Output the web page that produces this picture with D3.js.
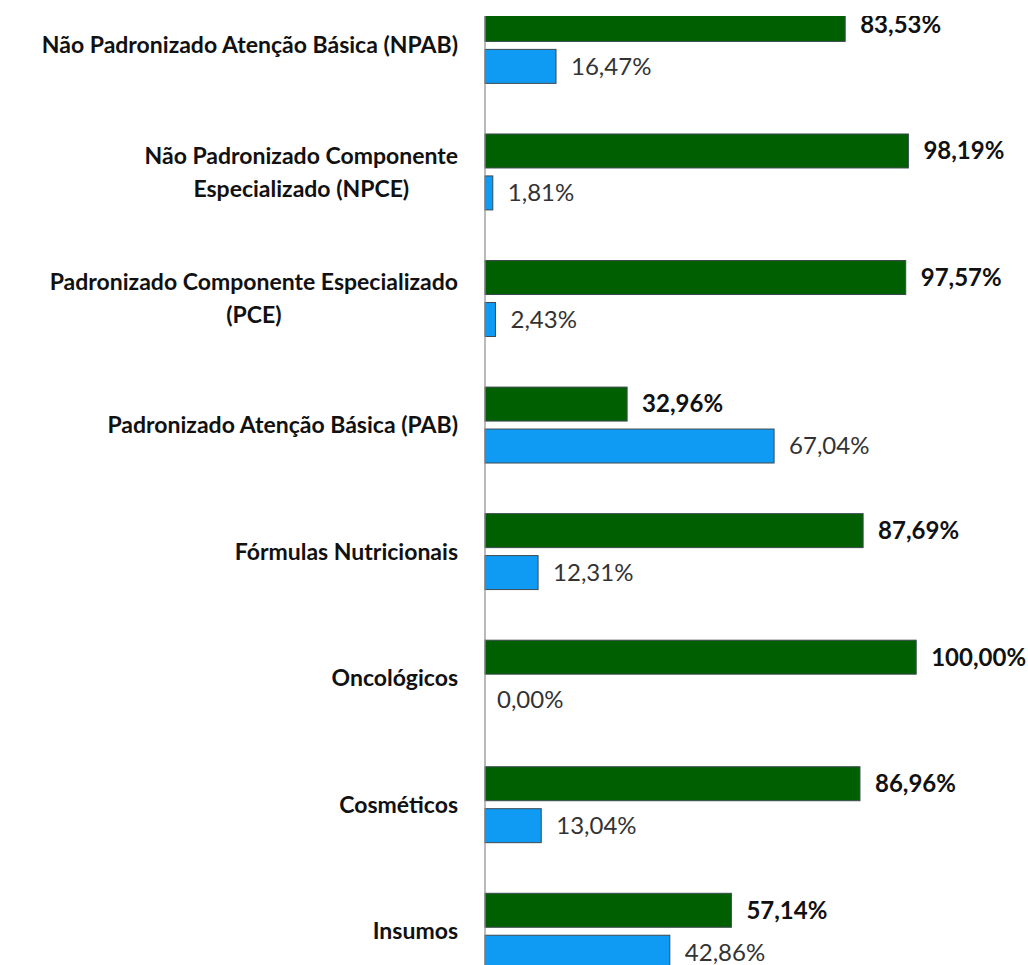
<html>
<head>
<meta charset="utf-8">
<script src="https://d3js.org/d3.v7.min.js"></script>
<style>
  body { margin: 0; background: #fff; }
  text { font-family: Lato, "Open Sans", sans-serif; }
</style>
</head>
<body>
<script>
// categorias (cada linha do rótulo separada)
var categories = [
  ["Não Padronizado Atenção Básica (NPAB)"],
  ["Não Padronizado Componente", "Especializado (NPCE)"],
  ["Padronizado Componente Especializado", "(PCE)"],
  ["Padronizado Atenção Básica (PAB)"],
  ["Fórmulas Nutricionais"],
  ["Oncológicos"],
  ["Cosméticos"],
  ["Insumos"]
];
var greenValues = [83.53, 98.19, 97.57, 32.96, 87.69, 100.00, 86.96, 57.14];
var blueValues  = [16.47, 1.81, 2.43, 67.04, 12.31, 0.00, 13.04, 42.86];
var seriesNames = ["verde", "azul"];

var w = 1028, h = 965;
var axisX = 485;     // posição do eixo vertical
var top0 = 16;       // topo da área visível
var step = 126.55;   // distância entre grupos
var c0 = 45.4;       // centro do primeiro grupo

var svg = d3.select("body").append("svg").attr("width", w).attr("height", h);

var xScale = d3.scaleLinear().domain([0, 100]).range([axisX, axisX + 431.2]);
var yScale = d3.scaleBand()
  .domain(d3.range(categories.length))
  .range([c0 - step / 2, c0 - step / 2 + categories.length * step])
  .paddingInner(0.4).paddingOuter(0.2);
var ySub = d3.scaleBand().domain(seriesNames).range([0, yScale.bandwidth()]).paddingInner(0.19);

var colors = { verde: "#005f00", azul: "#0f9bf3" };

svg.append("defs").append("clipPath").attr("id", "plot")
  .append("rect").attr("x", 0).attr("y", top0).attr("width", w).attr("height", h - top0);

var plot = svg.append("g").attr("clip-path", "url(#plot)");

var rows = categories.map(function(c, i){
  return [{s: "verde", v: greenValues[i], i: i}, {s: "azul", v: blueValues[i], i: i}];
});

var groups = plot.selectAll("g.grp").data(rows).enter().append("g")
  .attr("class", "grp")
  .attr("transform", function(d, i){ return "translate(0," + yScale(i) + ")"; });

groups.selectAll("rect").data(function(d){ return d; }).enter().append("rect")
  .filter(function(d){ return d.v > 0; })
  .attr("x", xScale(0))
  .attr("y", function(d){ return ySub(d.s); })
  .attr("width", function(d){ return xScale(d.v) - xScale(0); })
  .attr("height", ySub.bandwidth())
  .attr("fill", function(d){ return colors[d.s]; })
  .attr("stroke", "#3c4a50")
  .attr("stroke-width", 1);

groups.selectAll("text").data(function(d){ return d; }).enter().append("text")
  .attr("x", function(d){ return xScale(d.v) + (d.v > 0 ? 15 : 12); })
  .attr("y", function(d){ return ySub(d.s) + ySub.bandwidth() / 2; })
  .attr("dy", "0.35em")
  .attr("font-size", "24px")
  .attr("font-weight", function(d){ return d.s === "verde" ? "bold" : "normal"; })
  .attr("fill", function(d){ return d.s === "verde" ? "#111" : "#333"; })
  .text(function(d){ return d.v.toFixed(2).replace(".", ",") + "%"; });

// eixo vertical
plot.append("line")
  .attr("x1", axisX).attr("x2", axisX)
  .attr("y1", top0).attr("y2", h)
  .attr("stroke", "#8c8c8c").attr("stroke-width", 1.2);

// rótulos das categorias
var labelRight = 458, lineH = 33;
categories.forEach(function(lines, i){
  var g = svg.append("g");
  var cy = yScale(i) + yScale.bandwidth() / 2;
  var t = g.selectAll("text").data(lines).enter().append("text")
    .attr("font-size", "23px")
    .attr("font-weight", "bold")
    .attr("fill", "#111")
    .attr("text-anchor", "middle")
    .attr("y", function(d, k){ return cy + (k - (lines.length - 1) / 2) * lineH; })
    .attr("dy", "0.35em")
    .text(function(d){ return d; });
  var maxW = 0;
  t.each(function(){ maxW = Math.max(maxW, this.getComputedTextLength()); });
  t.attr("x", labelRight - maxW / 2);
});
</script>
</body>
</html>
